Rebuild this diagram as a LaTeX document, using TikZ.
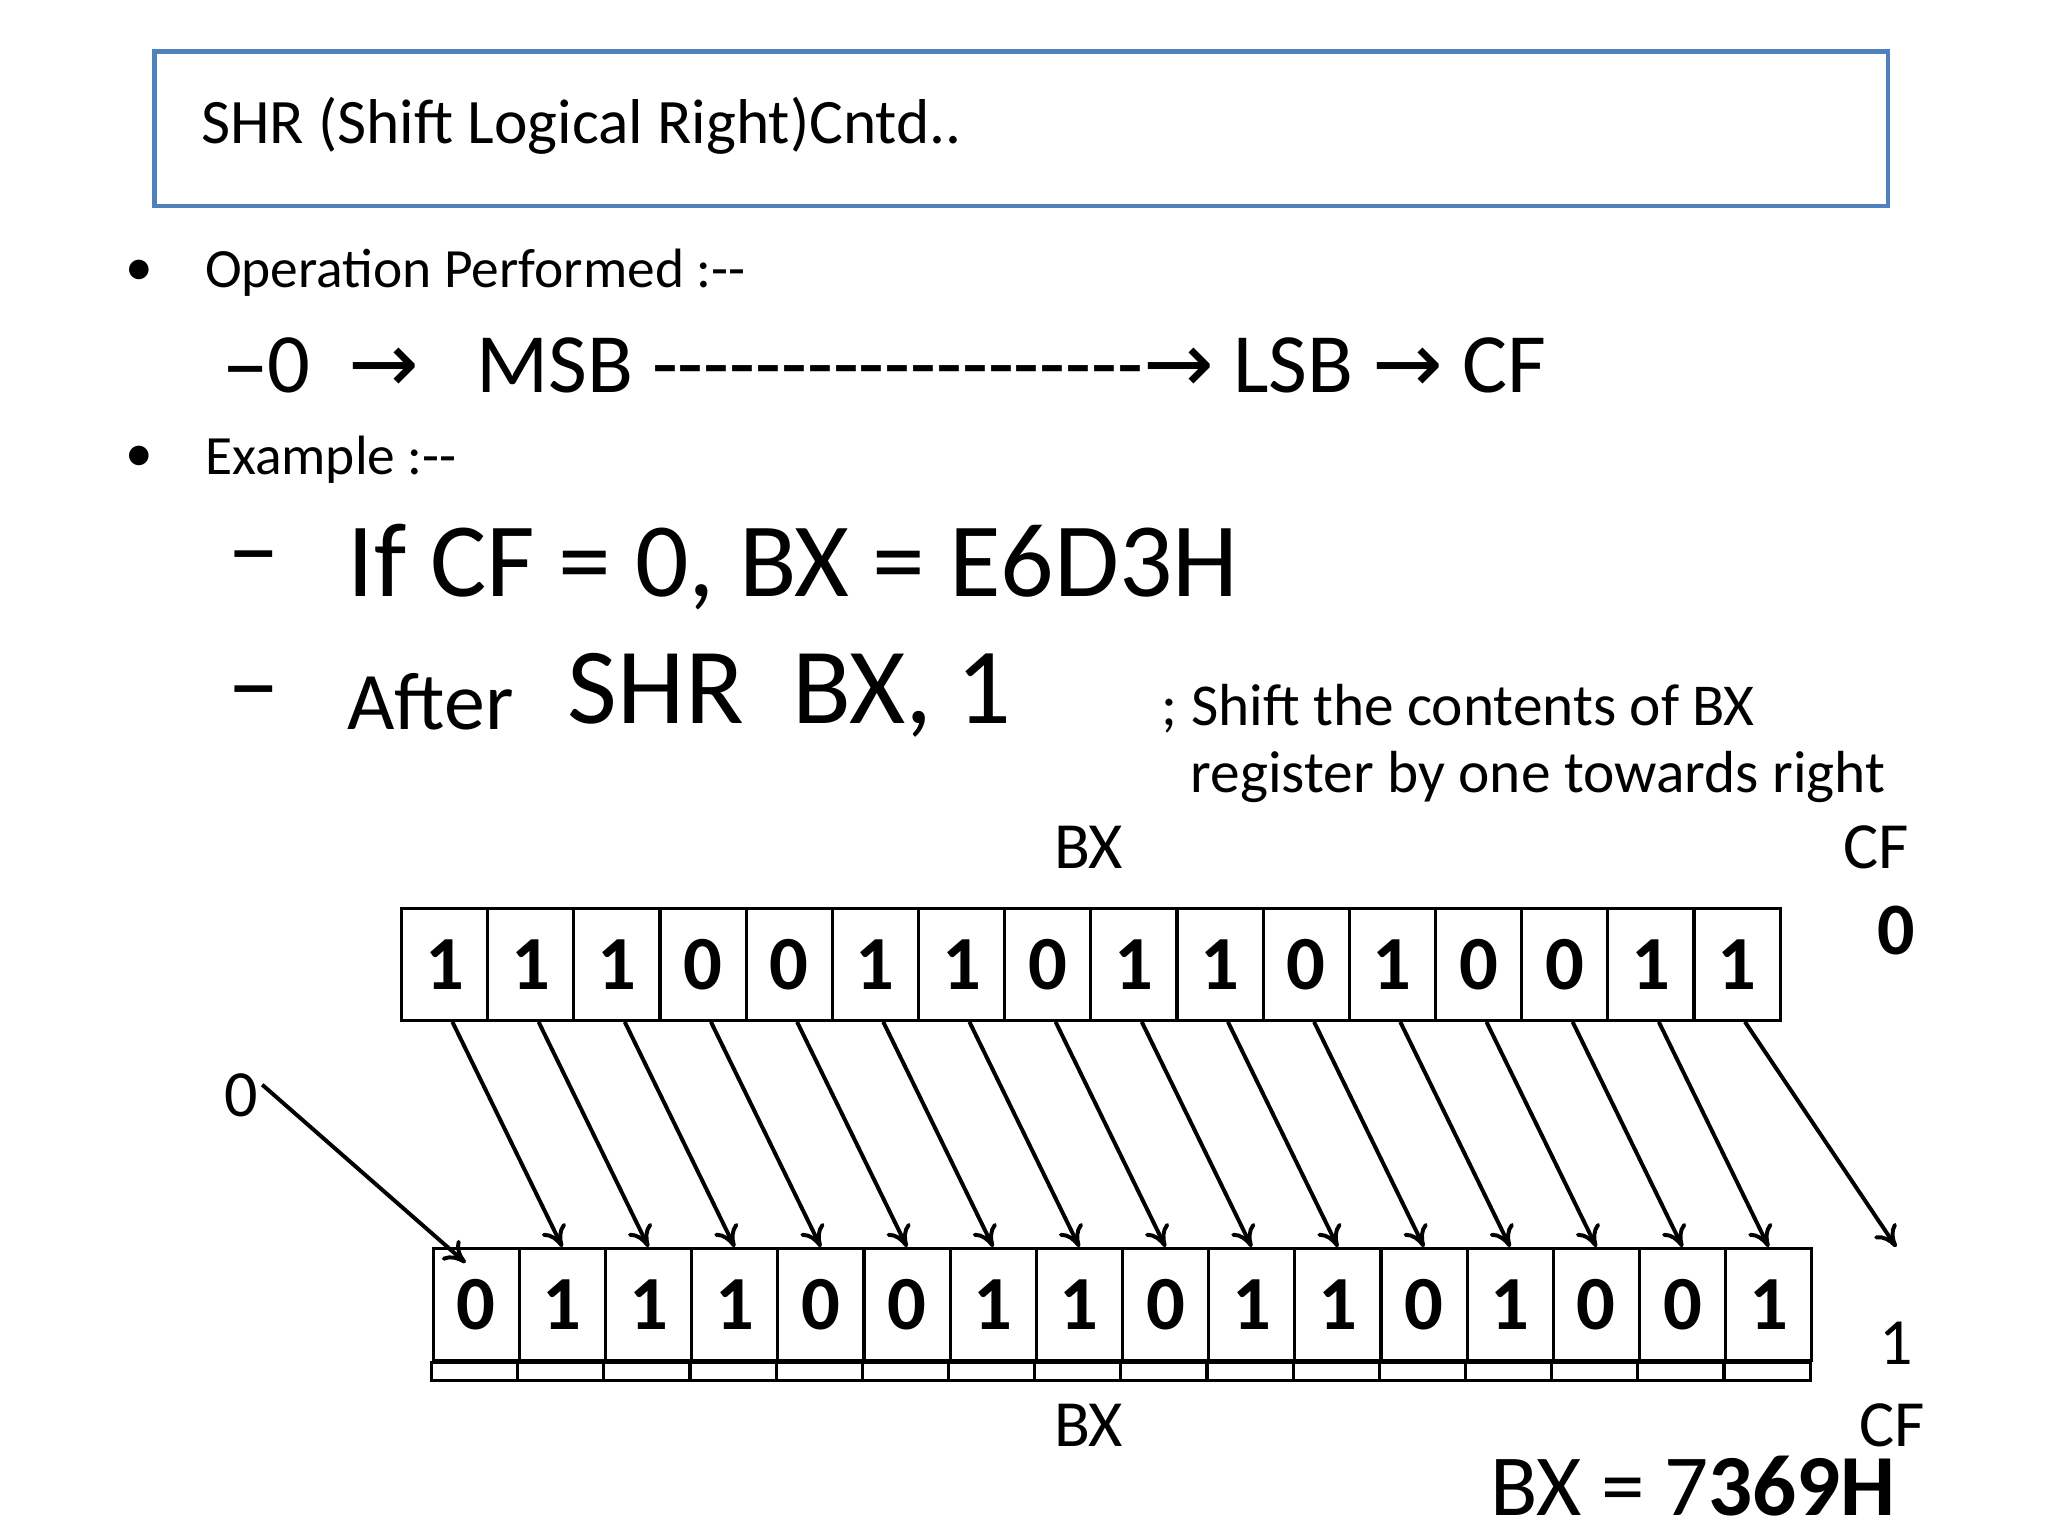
\documentclass[tikz,border=0pt]{standalone}
\usetikzlibrary{arrows.meta}
\usepackage{fontspec}
\setmainfont{Carlito}
\newfontfamily\dv{DejaVu Sans}
\begin{document}
\begin{tikzpicture}[x=0.5pt,y=-0.5pt,
  cell/.style={draw,line width=1.2pt,minimum width=32.65pt,minimum height=42.5pt,inner sep=0pt,font=\fontsize{29}{29}\selectfont\bfseries,anchor=north west},
  sh/.style={-{To[length=8pt,width=10pt]},line width=1.5pt},
  txt/.style={anchor=west,inner sep=0pt}]
\useasboundingbox (0,0) rectangle (1552,1164);
\definecolor{tb}{RGB}{79,129,189}
\draw[tb,line width=1.6pt] (117,39) rectangle (1431,156);
\node[txt,font=\fontsize{24}{24}\selectfont] (title) at (152,95) {SHR (Shift Logical Right)Cntd..};
\node[txt,font=\fontsize{21}{21}\selectfont] (b1) at (95,207) {•};
\node[txt,font=\fontsize{21}{21}\selectfont] (op) at (155,207) {Operation Performed :{-}{-}};
\node[txt,font=\fontsize{32}{32}\selectfont] (opl) at (170,277) {{\dv –}0 \ {\dv→} \ \ MSB {-}{-}{-}{-}{-}{-}{-}{-}{-}{-}{-}{-}{-}{-}{-}{-}{-}{-}{-}{\dv→} LSB {\dv→} CF};
\node[txt,font=\fontsize{21}{21}\selectfont] (b2) at (95,348) {•};
\node[txt,font=\fontsize{21}{21}\selectfont] (ex) at (155,348) {Example :{-}{-}};
\node[txt,font=\fontsize{40}{40}\selectfont] (d1) at (172,430) {\raisebox{-4pt}{–}};
\node[txt,font=\fontsize{40}{40}\selectfont] (ifl) at (263,430) {If CF = 0, BX = E6D3H};
\node[txt,font=\fontsize{40}{40}\selectfont] (d2) at (172,532) {\raisebox{-4pt}{–}};
\node[txt,font=\fontsize{31}{31}\selectfont] (aft) at (263,532) {After};
\node[txt,font=\fontsize{41}{41}\selectfont] (shr) at (430,527) {SHR\ \ BX, 1};
\node[txt,font=\fontsize{22.5}{22.5}\selectfont] (c1) at (880,537) {; Shift the contents of BX};
\node[txt,font=\fontsize{22.5}{22.5}\selectfont] (c2) at (902,589) {register by one towards right};
\node[font=\fontsize{25}{25}\selectfont] (bxt) at (825,642) {BX};
\node[font=\fontsize{25}{25}\selectfont] (cft) at (1422,642) {CF};
\node[font=\fontsize{28}{28}\selectfont\bfseries] (cf0) at (1437,705) {0};
\foreach \d [count=\i from 0] in {1,1,1,0,0,1,1,0,1,1,0,1,0,0,1,1}
  \node[cell] (t\i) at ({303+65.3*\i},687) {\d};
\foreach \d [count=\i from 0] in {0,1,1,1,0,0,1,1,0,1,1,0,1,0,0,1}{
  \node[cell] (b\i) at ({327+65.3*\i},945) {\d};
  \draw[line width=1.2pt] (b\i.south west) rectangle ++(65.3,14);}
\node[font=\fontsize{25}{25}\selectfont] (zero) at (183,830) {0};
\draw[sh] ([xshift=-2pt,yshift=4pt]zero.east) -- ([xshift=-4pt,yshift=-6pt]b0.north);
\foreach \i [evaluate=\i as \j using int(\i+1)] in {0,...,14}
  \draw[sh] ([xshift=3pt]t\i.south) -- (b\j.north);
\coordinate (cfin) at (1437,945);
\draw[sh] ([xshift=3pt]t15.south) -- (cfin);
\node[font=\fontsize{25}{25}\selectfont] (cf1) at (1437,1018) {1};
\node[font=\fontsize{25}{25}\selectfont] (cfb) at (1434,1080) {CF};
\node[font=\fontsize{25}{25}\selectfont] (bxb) at (825,1080) {BX};
\node[anchor=east,inner sep=0pt,font=\fontsize{33}{33}\selectfont] (res) at (1437,1126) {BX = 7\textbf{369H}};
\end{tikzpicture}
\end{document}
